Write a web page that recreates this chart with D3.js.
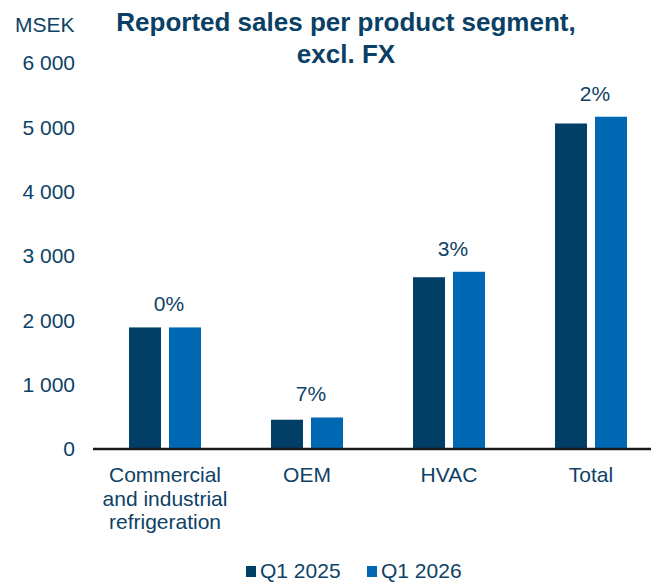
<!DOCTYPE html>
<html>
<head>
<meta charset="utf-8">
<script src="https://cdn.jsdelivr.net/npm/d3@7"></script>
<style>
  html, body { margin: 0; padding: 0; background: #fff; }
  svg { display: block; font-family: "Liberation Sans", Arial, sans-serif; }
</style>
</head>
<body>
<svg id="chart" width="651" height="582"></svg>
<script>
// Sales per product segment, MSEK
const categories = [
  ["Commercial", "and industrial", "refrigeration"],
  ["OEM"],
  ["HVAC"],
  ["Total"]
];
const categoryKeys = ["Commercial and industrial refrigeration", "OEM", "HVAC", "Total"];
const seriesNames = ["Q1 2025", "Q1 2026"];
const salesQ1_2025 = [1890, 455, 2670, 5060];
const salesQ1_2026 = [1890, 490, 2755, 5165];
const growthLabels = ["0%", "7%", "3%", "2%"];
const yTicks = [0, 1000, 2000, 3000, 4000, 5000, 6000];

const seriesValues = [salesQ1_2025, salesQ1_2026];
const colors = ["#023f66", "#0068b2"];
const textColor = "#0d4266";

const svg = d3.select("#chart");

const x0 = d3.scaleBand()
  .domain(categoryKeys)
  .range([94, 662])
  .paddingInner(0.493)
  .paddingOuter(0.2465);

const x1 = d3.scaleBand()
  .domain(seriesNames)
  .range([0, x0.bandwidth()])
  .paddingInner(0.2);

const y = d3.scaleLinear().domain([0, 6000]).range([449, 63]);

// Y axis labels
const fmt = v => d3.format(",")(v).replace(/,/g, " ");
const yAxis = d3.axisLeft(y).tickValues(yTicks).tickSize(0).tickPadding(19).tickFormat(fmt);
const gy = svg.append("g").attr("transform", "translate(94,0)").call(yAxis);
gy.select(".domain").remove();
gy.selectAll("text")
  .attr("fill", textColor)
  .style("font-size", "21px")
  .style("font-family", "'Liberation Sans', Arial, sans-serif");

// Unit label
svg.append("text")
  .attr("x", 15).attr("y", 32)
  .attr("fill", textColor)
  .style("font-size", "21px")
  .text("MSEK");

// Title
const title = svg.append("text")
  .attr("text-anchor", "middle")
  .attr("fill", "#0a3f66")
  .style("font-size", "26px")
  .style("font-weight", "bold");
title.append("tspan").attr("x", 346).attr("y", 31).text("Reported sales per product segment,");
title.append("tspan").attr("x", 346).attr("y", 63).text("excl. FX");

// Bars
const groups = svg.append("g").selectAll("g")
  .data(categoryKeys)
  .join("g")
  .attr("transform", d => `translate(${x0(d)},0)`);

groups.selectAll("rect")
  .data((d, i) => seriesNames.map((s, j) => ({ s, j, v: seriesValues[j][i] })))
  .join("rect")
  .attr("x", d => x1(d.s))
  .attr("width", x1.bandwidth())
  .attr("y", d => y(d.v))
  .attr("height", d => y(0) - y(d.v))
  .attr("fill", d => colors[d.j]);

// Growth labels
svg.append("g").selectAll("text")
  .data(categoryKeys)
  .join("text")
  .attr("x", d => x0(d) + x0.bandwidth() / 2 + 4)
  .attr("y", (d, i) => y(Math.max(salesQ1_2025[i], salesQ1_2026[i])) - 16)
  .attr("text-anchor", "middle")
  .attr("fill", textColor)
  .style("font-size", "21px")
  .text((d, i) => growthLabels[i]);

// Baseline
svg.append("line")
  .attr("x1", 93).attr("x2", 651)
  .attr("y1", y(0)).attr("y2", y(0))
  .attr("stroke", "#1a1a1a")
  .attr("stroke-width", 2.5);

// Category labels
const catText = svg.append("g").selectAll("text")
  .data(categoryKeys)
  .join("text")
  .attr("text-anchor", "middle")
  .attr("fill", textColor)
  .style("font-size", "21px");
catText.each(function (d, i) {
  const t = d3.select(this);
  categories[i].forEach((line, k) => {
    t.append("tspan")
      .attr("x", x0(d) + x0.bandwidth() / 2)
      .attr("y", 482 + k * 23.5)
      .text(line);
  });
});

// Legend
const legendX = [246, 367];
const legend = svg.append("g").selectAll("g")
  .data(seriesNames)
  .join("g")
  .attr("transform", (d, i) => `translate(${legendX[i]},0)`);
legend.append("rect")
  .attr("x", 0).attr("y", 566)
  .attr("width", 10).attr("height", 11)
  .attr("fill", (d, i) => colors[i]);
legend.append("text")
  .attr("x", 14).attr("y", 577.5)
  .attr("fill", textColor)
  .style("font-size", "21px")
  .text(d => d);
</script>
</body>
</html>
